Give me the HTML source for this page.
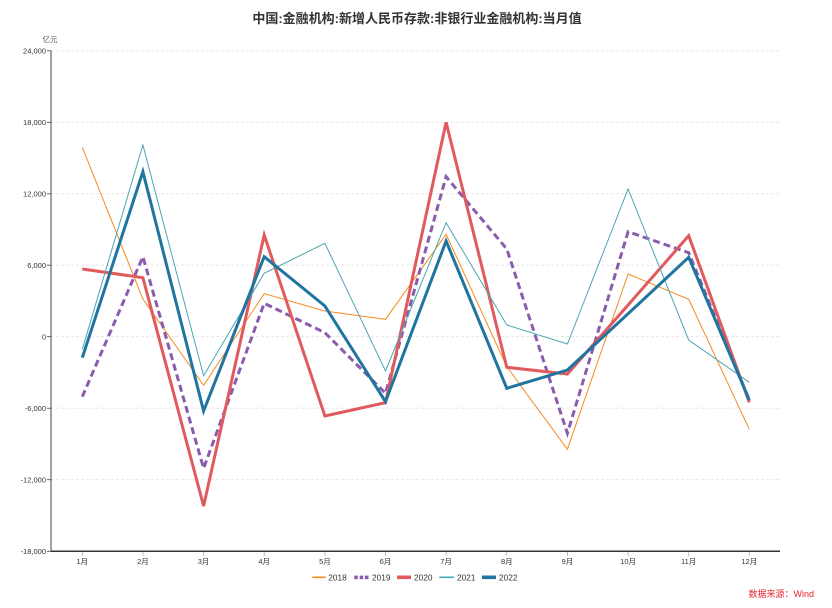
<!DOCTYPE html>
<html><head><meta charset="utf-8">
<style>
html,body{margin:0;padding:0;background:#fff;}
body{width:832px;height:608px;overflow:hidden;}
svg{display:block;font-family:"Liberation Sans","Noto Sans CJK SC",sans-serif;}
</style></head>
<body>
<svg width="832" height="608" viewBox="0 0 832 608" xmlns="http://www.w3.org/2000/svg">
<rect width="832" height="608" fill="#fff"/>
<text x="417" y="23" text-anchor="middle" font-size="13" font-weight="bold" fill="#333">中国:金融机构:新增人民币存款:非银行业金融机构:当月值</text>
<text x="50" y="42" text-anchor="middle" font-size="7.5" fill="#555">亿元</text>
<g stroke="#e3e3e3" stroke-width="0.8" stroke-dasharray="3,2">
<line x1="51" y1="50.8" x2="780" y2="50.8"/>
<line x1="51" y1="122.3" x2="780" y2="122.3"/>
<line x1="51" y1="193.8" x2="780" y2="193.8"/>
<line x1="51" y1="265.2" x2="780" y2="265.2"/>
<line x1="51" y1="336.7" x2="780" y2="336.7"/>
<line x1="51" y1="408.2" x2="780" y2="408.2"/>
<line x1="51" y1="479.7" x2="780" y2="479.7"/>
</g>
<g stroke="#444" stroke-width="0.8">
<line x1="47" y1="50.8" x2="51" y2="50.8"/>
<line x1="47" y1="122.3" x2="51" y2="122.3"/>
<line x1="47" y1="193.8" x2="51" y2="193.8"/>
<line x1="47" y1="265.2" x2="51" y2="265.2"/>
<line x1="47" y1="336.7" x2="51" y2="336.7"/>
<line x1="47" y1="408.2" x2="51" y2="408.2"/>
<line x1="47" y1="479.7" x2="51" y2="479.7"/>
<line x1="47" y1="551.3" x2="51" y2="551.3"/>
</g>
<g font-size="7.5" fill="#333" text-anchor="end">
<text x="46" y="53.5">24,000</text>
<text x="46" y="125">18,000</text>
<text x="46" y="196.5">12,000</text>
<text x="46" y="268">6,000</text>
<text x="46" y="339.4">0</text>
<text x="46" y="411">-6,000</text>
<text x="46" y="482.4">-12,000</text>
<text x="46" y="554">-18,000</text>
</g>
<line x1="51" y1="50.8" x2="51" y2="551.3" stroke="#444" stroke-width="1"/>
<line x1="51" y1="551.3" x2="780" y2="551.3" stroke="#333" stroke-width="1.5"/>
<g stroke="#aaa" stroke-width="0.8">
<line x1="82.3" y1="552" x2="82.3" y2="556"/>
<line x1="142.9" y1="552" x2="142.9" y2="556"/>
<line x1="203.6" y1="552" x2="203.6" y2="556"/>
<line x1="264.2" y1="552" x2="264.2" y2="556"/>
<line x1="324.9" y1="552" x2="324.9" y2="556"/>
<line x1="385.5" y1="552" x2="385.5" y2="556"/>
<line x1="446.1" y1="552" x2="446.1" y2="556"/>
<line x1="506.8" y1="552" x2="506.8" y2="556"/>
<line x1="567.4" y1="552" x2="567.4" y2="556"/>
<line x1="628.1" y1="552" x2="628.1" y2="556"/>
<line x1="688.7" y1="552" x2="688.7" y2="556"/>
<line x1="749.3" y1="552" x2="749.3" y2="556"/>
</g>
<g font-size="7.5" fill="#333" text-anchor="middle">
<text x="82.3" y="564">1月</text>
<text x="142.9" y="564">2月</text>
<text x="203.6" y="564">3月</text>
<text x="264.2" y="564">4月</text>
<text x="324.9" y="564">5月</text>
<text x="385.5" y="564">6月</text>
<text x="446.1" y="564">7月</text>
<text x="506.8" y="564">8月</text>
<text x="567.4" y="564">9月</text>
<text x="628.1" y="564">10月</text>
<text x="688.7" y="564">11月</text>
<text x="749.3" y="564">12月</text>
</g>
<g fill="none" stroke-linejoin="miter">
<polyline stroke="#f58a1f" stroke-width="1" points="82.3,147.3 142.9,299 203.6,385.3 264.2,293.7 324.9,311 385.5,319.3 446.1,234.3 506.8,366.7 567.4,449.3 628.1,274 688.7,299.3 749.3,429.3"/>
<polyline stroke="#8a5cad" stroke-width="3" stroke-dasharray="7,4" points="82.3,396.7 142.9,256.7 203.6,468.3 264.2,303.3 324.9,332.7 385.5,393.3 446.1,176.7 506.8,249 567.4,433.3 628.1,231.7 688.7,252.7 749.3,400"/>
<polyline stroke="#e05a5e" stroke-width="3" points="82.3,269 142.9,277.7 203.6,506 264.2,235 324.9,416 385.5,402.7 446.1,122.3 506.8,367.3 567.4,374 628.1,305 688.7,235.7 749.3,402.3"/>
<polyline stroke="#4aa6b2" stroke-width="1" points="82.3,349.3 142.9,145 203.6,375.7 264.2,273.3 324.9,243.3 385.5,371 446.1,222.7 506.8,325 567.4,344 628.1,189 688.7,340 749.3,382.3"/>
<polyline stroke="#1f75a0" stroke-width="3" points="82.3,357.7 142.9,171.7 203.6,411 264.2,256.7 324.9,306 385.5,401.7 446.1,241 506.8,388.3 567.4,370 628.1,313.7 688.7,257.3 749.3,400"/>
</g>
<g font-size="8.3" fill="#333">
<line x1="312.3" y1="577.3" x2="325.7" y2="577.3" stroke="#f58a1f" stroke-width="1.6"/>
<text x="328.3" y="580.3">2018</text>
<rect x="354.3" y="575.6" width="3.6" height="3.6" fill="#8a5cad"/>
<rect x="359.6" y="575.6" width="3.6" height="3.6" fill="#8a5cad"/>
<rect x="364.9" y="575.6" width="3.6" height="3.6" fill="#8a5cad"/>
<text x="372" y="580.3">2019</text>
<rect x="397" y="575.5" width="14" height="3.6" fill="#e05a5e"/>
<text x="414" y="580.3">2020</text>
<line x1="439.3" y1="577.3" x2="454" y2="577.3" stroke="#4aa6b2" stroke-width="1.6"/>
<text x="457" y="580.3">2021</text>
<rect x="482" y="575.5" width="14" height="3.6" fill="#1f75a0"/>
<text x="499" y="580.3">2022</text>
</g>
<text x="814" y="597" text-anchor="end" font-size="9" fill="#e8202a">数据来源：Wind</text>
</svg>
</body></html>
